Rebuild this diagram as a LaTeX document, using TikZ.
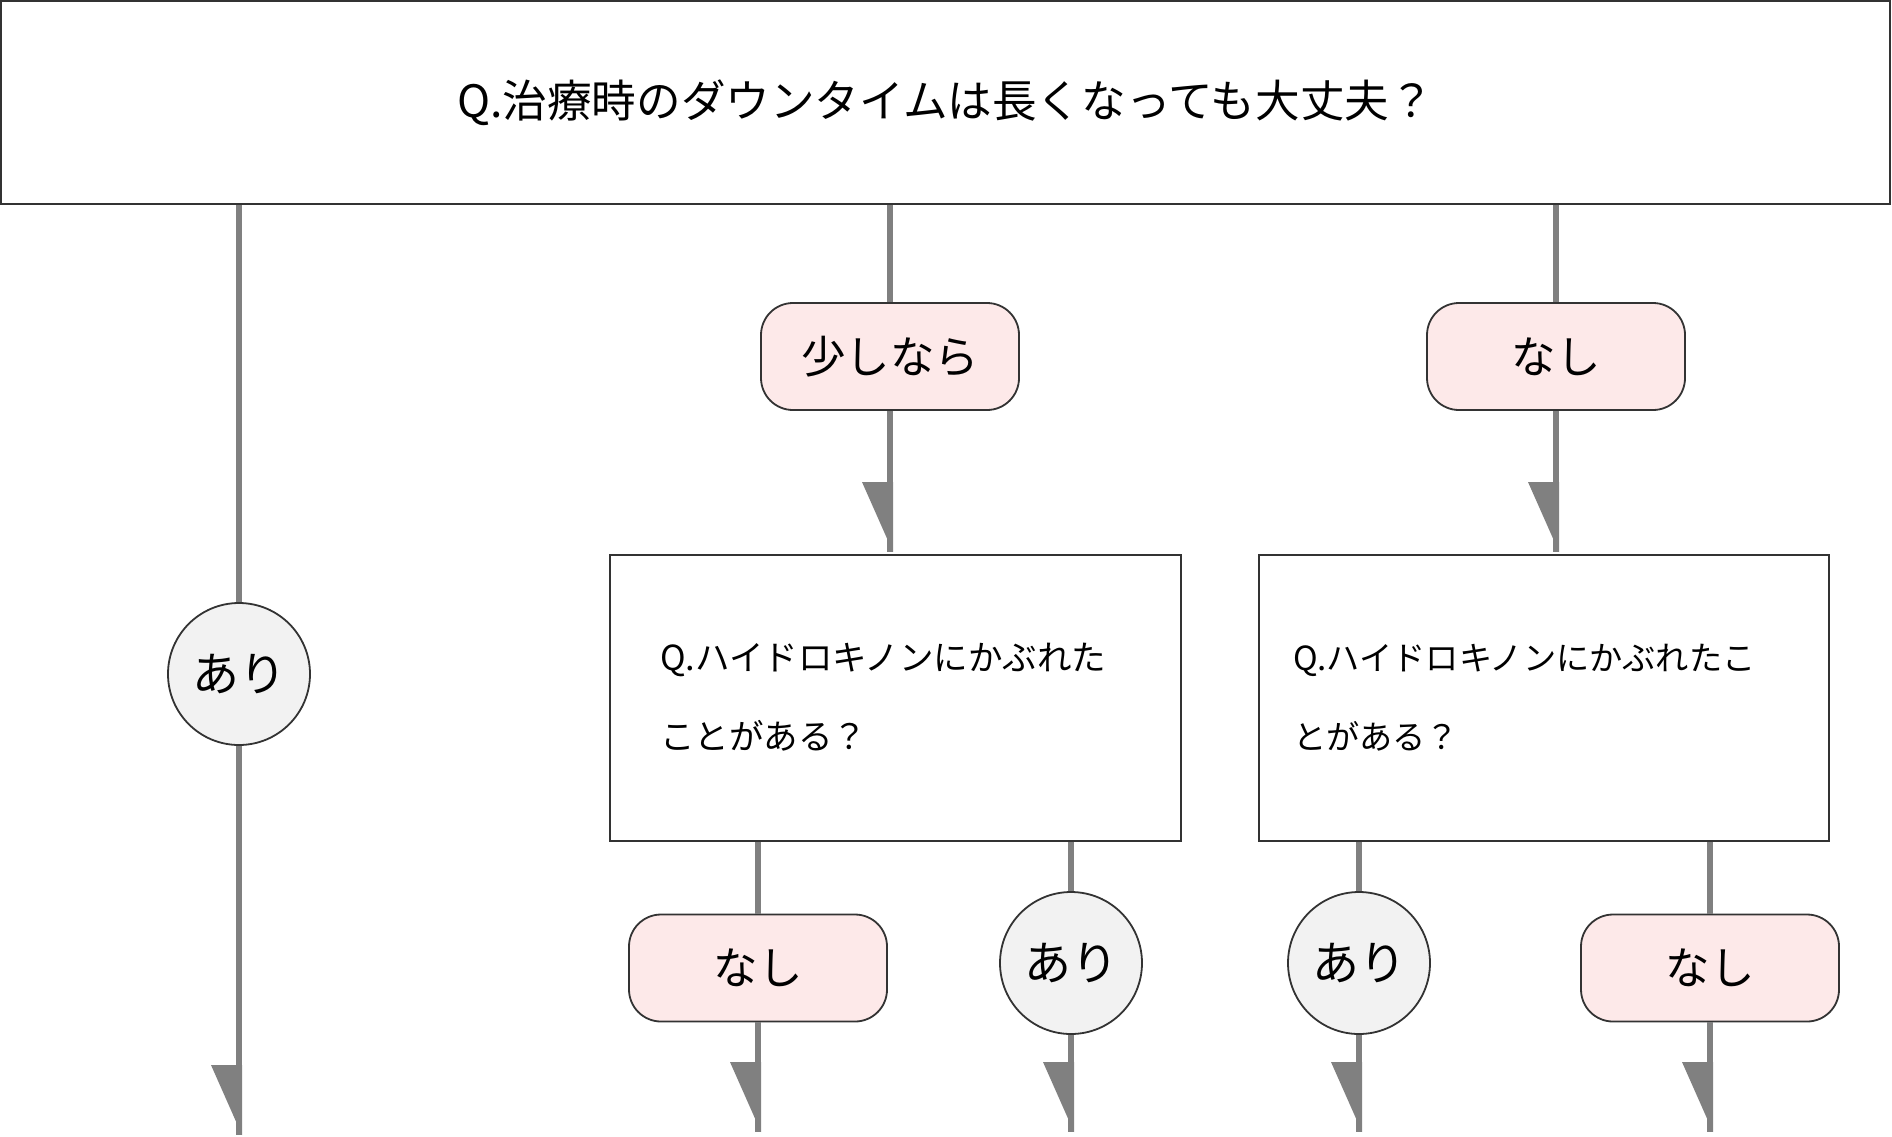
\documentclass[tikz,border=0pt]{standalone}
\usepackage{fontspec}
\setmainfont{Noto Sans CJK JP}
\usetikzlibrary{calc}
\definecolor{linegray}{HTML}{808080}
\definecolor{edgec}{HTML}{333333}
\definecolor{pinkfill}{HTML}{FDE9E9}
\definecolor{circfill}{HTML}{F2F2F2}
\tikzset{
 qbox/.style={draw=edgec, line width=2pt, fill=white, rectangle, inner sep=0pt},
 pill/.style={draw=edgec, line width=1.8pt, fill=pinkfill, rounded corners=32pt, minimum width=258pt, minimum height=107pt, inner sep=0pt, font=\fontsize{44.5}{50}\selectfont},
 yesc/.style={draw=edgec, line width=1.8pt, fill=circfill, circle, minimum size=142pt, inner sep=0pt, font=\fontsize{47}{52}\selectfont},
 conn/.style={draw=linegray, line width=6pt},
 tipfill/.style={fill=linegray},
}
\newcommand{\halftip}[1]{\fill[tipfill] ($(#1)+(3,0)$) -- ($(#1)+(3,-70)$) -- ($(#1)+(-28,-70)$) -- cycle;}
\begin{document}
\begin{tikzpicture}[x=1pt,y=-1pt]
\useasboundingbox (0,0) rectangle (1892,1136);
\fill[white] (0,0) rectangle (1892,1136);
% nodes
\node[qbox, minimum width=1889pt, minimum height=203pt, font=\fontsize{44.6}{50}\selectfont] (q0) at (945.5,102.5) {Q.治療時のダウンタイムは長くなっても大丈夫？};
\node[yesc] (a1) at (239,674) {あり};
\node[pill] (p1) at (890,356.5) {少しなら};
\node[pill] (p2) at (1556,356.5) {なし};
\node[qbox, minimum width=571pt, minimum height=286pt, text width=471pt, align=left, font=\fontsize{34.5}{79}\selectfont] (q1) at (895.5,698) {\raisebox{3pt}{Q.ハイドロキノンにかぶれた}\\\raisebox{3pt}{ことがある？}};
\node[qbox, minimum width=570pt, minimum height=286pt, text width=502pt, align=left, font=\fontsize{33.2}{79}\selectfont] (q2) at (1544,698) {\raisebox{3pt}{Q.ハイドロキノンにかぶれたこ}\\\raisebox{3pt}{とがある？}};
\node[pill] (b1) at (758,968) {なし};
\node[yesc] (c1) at (1071,963) {あり};
\node[yesc] (c2) at (1359,963) {あり};
\node[pill] (b2) at (1710,968) {なし};
% end points
\coordinate (e1) at (239,1135);
\coordinate (e2) at (890,552);
\coordinate (e3) at (1556,552);
\coordinate (e4) at (758,1132);
\coordinate (e5) at (1071,1132);
\coordinate (e6) at (1359,1132);
\coordinate (e7) at (1710,1132);
% connectors
\draw[conn] (q0.south -| a1) -- (a1.north);
\draw[conn] (a1.south) -- (e1);
\draw[conn] (q0.south -| p1) -- (p1.north);
\draw[conn] (p1.south) -- (e2);
\draw[conn] (q0.south -| p2) -- (p2.north);
\draw[conn] (p2.south) -- (e3);
\draw[conn] (q1.south -| b1) -- (b1.north);
\draw[conn] (b1.south) -- (e4);
\draw[conn] (q1.south -| c1) -- (c1.north);
\draw[conn] (c1.south) -- (e5);
\draw[conn] (q2.south -| c2) -- (c2.north);
\draw[conn] (c2.south) -- (e6);
\draw[conn] (q2.south -| b2) -- (b2.north);
\draw[conn] (b2.south) -- (e7);
% half arrow heads
\halftip{e1}
\halftip{e2}
\halftip{e3}
\halftip{e4}
\halftip{e5}
\halftip{e6}
\halftip{e7}
\end{tikzpicture}
\end{document}
